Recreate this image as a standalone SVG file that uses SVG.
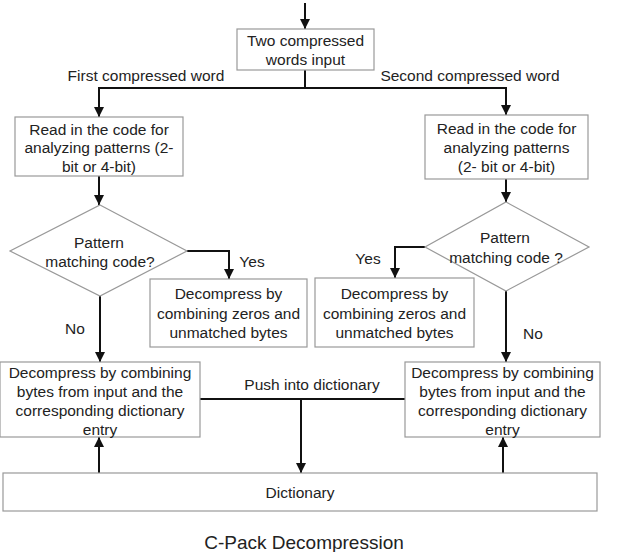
<svg xmlns="http://www.w3.org/2000/svg" width="632" height="552" viewBox="0 0 632 552">
<defs>
<marker id="ah" markerUnits="userSpaceOnUse" markerWidth="10" markerHeight="12" viewBox="0 0 10 12" refX="10" refY="5" orient="auto">
<path d="M0,0 L10,5 L0,10 Z" fill="#111"/>
</marker>
<style>
.box{fill:#fff;stroke:#999;stroke-width:1.2}
.t{font-family:"Liberation Sans",Arial,sans-serif;font-size:15.5px;fill:#222;text-anchor:middle}
.title{font-family:"Liberation Sans",Arial,sans-serif;font-size:19px;fill:#222;text-anchor:middle}
.c{fill:none;stroke:#111;stroke-width:2}
.a{marker-end:url(#ah)}
</style>
</defs>
<rect width="632" height="552" fill="#fff"/>
<g id="connectors">
<line class="c a" x1="305" y1="3" x2="305" y2="29"/>
<polyline class="c" points="305,70 305,88"/>
<polyline class="c a" points="305,88 99,88 99,117"/>
<polyline class="c a" points="305,88 506,88 506,115"/>
<line class="c a" x1="99" y1="176" x2="99" y2="205"/>
<line class="c a" x1="506" y1="179" x2="506" y2="202"/>
<polyline class="c a" points="187,251 229,251 229,279"/>
<polyline class="c a" points="425,247 395,247 395,278"/>
<line class="c a" x1="100" y1="296" x2="100" y2="362"/>
<line class="c a" x1="506" y1="291" x2="506" y2="362"/>
<line class="c" x1="200" y1="399" x2="405" y2="399"/>
<line class="c a" x1="301" y1="399" x2="301" y2="473"/>
<line class="c a" x1="99" y1="473" x2="99" y2="437"/>
<line class="c a" x1="503" y1="473" x2="503" y2="437"/>
<text class="t" x="146" y="80.5">First compressed word</text>
<text class="t" x="470" y="80.5">Second compressed word</text>
<text class="t" x="252" y="266.5">Yes</text>
<text class="t" x="368" y="263.5">Yes</text>
<text class="t" x="75" y="333.5">No</text>
<text class="t" x="533" y="338.5">No</text>
<text class="t" x="312" y="389.5">Push into dictionary</text>
</g>
<g id="input">
<rect class="box" x="237" y="29" width="137" height="41"/>
<text class="t" x="305.5" y="45.5">Two compressed</text>
<text class="t" x="305.5" y="64.5">words input</text>
</g>
<g id="read-left">
<rect class="box" x="15" y="117" width="168" height="59"/>
<text class="t" x="99" y="134.5">Read in the code for</text>
<text class="t" x="99" y="153">analyzing patterns (2-</text>
<text class="t" x="99" y="171.5">bit or 4-bit)</text>
</g>
<g id="read-right">
<rect class="box" x="425" y="115" width="163" height="64"/>
<text class="t" x="506.5" y="133.5">Read in the code for</text>
<text class="t" x="506.5" y="153">analyzing patterns</text>
<text class="t" x="506.5" y="171.5">(2- bit or 4-bit)</text>
</g>
<g id="decision-left">
<polygon class="box" points="100,205 187,251 100,296 10,251"/>
<text class="t" x="99" y="247.5">Pattern</text>
<text class="t" x="100" y="266.5">matching code?</text>
</g>
<g id="decision-right">
<polygon class="box" points="506,202 589,247 506,291 425,247"/>
<text class="t" x="505" y="242.5">Pattern</text>
<text class="t" x="506" y="262.5">matching code ?</text>
</g>
<g id="zeros-left">
<rect class="box" x="150" y="279" width="157" height="68"/>
<text class="t" x="228.5" y="298.5">Decompress by</text>
<text class="t" x="228.5" y="318.5">combining zeros and</text>
<text class="t" x="228.5" y="337.5">unmatched bytes</text>
</g>
<g id="zeros-right">
<rect class="box" x="315" y="278" width="159" height="69"/>
<text class="t" x="394.5" y="298.5">Decompress by</text>
<text class="t" x="394.5" y="318.5">combining zeros and</text>
<text class="t" x="394.5" y="337.5">unmatched bytes</text>
</g>
<g id="combine-left">
<rect class="box" x="0" y="362" width="200" height="75"/>
<text class="t" x="100" y="377.5">Decompress by combining</text>
<text class="t" x="100" y="397">bytes from input and the</text>
<text class="t" x="100" y="416">corresponding dictionary</text>
<text class="t" x="100" y="434.5">entry</text>
</g>
<g id="combine-right">
<rect class="box" x="405" y="362" width="195" height="75"/>
<text class="t" x="502.5" y="377.5">Decompress by combining</text>
<text class="t" x="502.5" y="397">bytes from input and the</text>
<text class="t" x="502.5" y="416">corresponding dictionary</text>
<text class="t" x="502.5" y="434.5">entry</text>
</g>
<g id="dictionary">
<rect class="box" x="3" y="473" width="594" height="38"/>
<text class="t" x="300" y="497.5">Dictionary</text>
</g>
<g id="title">
<text class="title" x="304" y="548.5">C-Pack Decompression</text>
</g>
</svg>
